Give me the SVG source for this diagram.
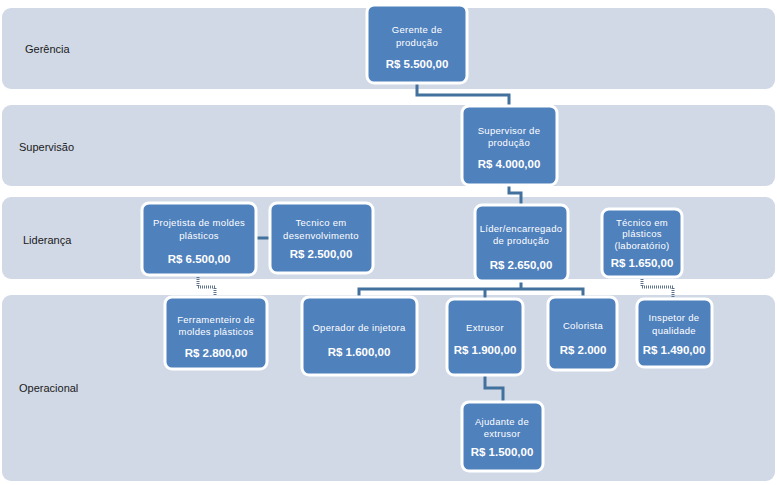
<svg xmlns="http://www.w3.org/2000/svg" width="777" height="485" viewBox="0 0 777 485">
<style>
.band{fill:#d1d9e6}
.lbl{font-family:"Liberation Sans",Arial,sans-serif;font-size:11px;fill:#1a1a1a}
.box{fill:#4f81bd;stroke:#ffffff;stroke-width:3}
.t{font-family:"Liberation Sans",Arial,sans-serif;font-size:9.5px;fill:#ffffff;text-anchor:middle;letter-spacing:0.3px}
.p{font-family:"Liberation Sans",Arial,sans-serif;font-size:11.5px;font-weight:bold;fill:#ffffff;text-anchor:middle}
.c{fill:none;stroke:#41719c;stroke-width:3}
.d{fill:none;stroke:#5f7389;stroke-width:3;stroke-dasharray:1 1}
</style>
<rect width="777" height="485" fill="#ffffff"/>
<g id="bands">
<rect class="band" x="2" y="8" width="773" height="81" rx="9"/>
<rect class="band" x="2" y="105" width="773" height="81" rx="9"/>
<rect class="band" x="2" y="197" width="773" height="82" rx="9"/>
<rect class="band" x="2" y="295" width="773" height="186" rx="9"/>
<text class="lbl" x="25" y="53">Gerência</text>
<text class="lbl" x="19" y="151">Supervisão</text>
<text class="lbl" x="23" y="244">Liderança</text>
<text class="lbl" x="19" y="392">Operacional</text>
</g>
<g id="connectors">
<polyline class="c" points="417,83 417,95 509,95 509,106"/>
<polyline class="c" points="509,185 509,193 521,193 521,205"/>
<polyline class="c" points="521,281 521,289"/>
<polyline class="c" points="359,297 359,289 583,289 583,297"/>
<polyline class="c" points="485,289 485,299"/>
<polyline class="c" points="485,375 485,388 503,388 503,402"/>
<polyline class="c" points="256,238 270,238"/>
<polyline class="d" points="198,275 198,287 215,287 215,297"/>
<polyline class="d" points="642,277 642,287 673,287 673,298"/>
</g>
<g id="gerente">
<rect class="box" x="367" y="5" width="100" height="78" rx="7"/>
<text class="t" x="417" y="33">Gerente de</text>
<text class="t" x="417" y="46">produção</text>
<text class="p" x="417" y="68">R$ 5.500,00</text>
</g>
<g id="supervisor">
<rect class="box" x="462" y="106" width="95" height="79" rx="7"/>
<text class="t" x="509" y="134">Supervisor de</text>
<text class="t" x="509" y="146">produção</text>
<text class="p" x="509" y="168">R$ 4.000,00</text>
</g>
<g id="lider">
<rect class="box" x="475" y="205" width="93" height="76" rx="7"/>
<text class="t" x="521" y="232">Líder/encarregado</text>
<text class="t" x="521" y="244">de produção</text>
<text class="p" x="521" y="269">R$ 2.650,00</text>
</g>
<g id="tecnico-plasticos">
<rect class="box" x="602" y="209" width="80" height="68" rx="7"/>
<text class="t" x="642" y="226">Técnico em</text>
<text class="t" x="642" y="237">plásticos</text>
<text class="t" x="642" y="249">(laboratório)</text>
<text class="p" x="642" y="267">R$ 1.650,00</text>
</g>
<g id="projetista">
<rect class="box" x="142" y="203" width="114" height="72" rx="7"/>
<text class="t" x="199" y="226">Projetista de moldes</text>
<text class="t" x="199" y="239">plásticos</text>
<text class="p" x="199" y="263">R$ 6.500,00</text>
</g>
<g id="tecnico-desenvolvimento">
<rect class="box" x="270" y="203" width="103" height="70" rx="7"/>
<text class="t" x="321" y="226">Tecnico em</text>
<text class="t" x="321" y="239">desenvolvimento</text>
<text class="p" x="321" y="258">R$ 2.500,00</text>
</g>
<g id="ferramenteiro">
<rect class="box" x="165" y="297" width="102" height="72" rx="7"/>
<text class="t" x="216" y="323">Ferramenteiro de</text>
<text class="t" x="216" y="335">moldes plásticos</text>
<text class="p" x="216" y="357">R$ 2.800,00</text>
</g>
<g id="operador">
<rect class="box" x="302" y="297" width="115" height="78" rx="7"/>
<text class="t" x="359" y="331">Operador de injetora</text>
<text class="p" x="359" y="356">R$ 1.600,00</text>
</g>
<g id="extrusor">
<rect class="box" x="447" y="299" width="76" height="76" rx="7"/>
<text class="t" x="485" y="331">Extrusor</text>
<text class="p" x="485" y="354">R$ 1.900,00</text>
</g>
<g id="colorista">
<rect class="box" x="548" y="297" width="69" height="73" rx="7"/>
<text class="t" x="583" y="329">Colorista</text>
<text class="p" x="583" y="354">R$ 2.000</text>
</g>
<g id="inspetor">
<rect class="box" x="637" y="299" width="75" height="68" rx="7"/>
<text class="t" x="674" y="321">Inspetor de</text>
<text class="t" x="674" y="334">qualidade</text>
<text class="p" x="674" y="354">R$ 1.490,00</text>
</g>
<g id="ajudante">
<rect class="box" x="462" y="402" width="81" height="69" rx="7"/>
<text class="t" x="502" y="425">Ajudante de</text>
<text class="t" x="502" y="437">extrusor</text>
<text class="p" x="502" y="456">R$ 1.500,00</text>
</g>
</svg>
